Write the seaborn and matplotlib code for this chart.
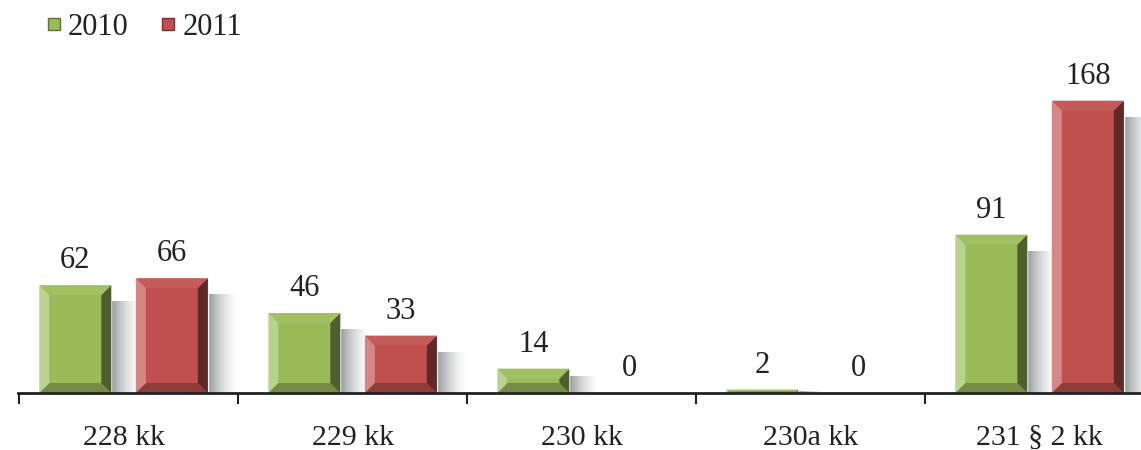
import pandas as pd
import matplotlib.pyplot as plt
import matplotlib.colors as mcolors
from matplotlib.patches import Polygon, Rectangle
from matplotlib.lines import Line2D
import seaborn as sns

# data
categories = ['228 kk', '229 kk', '230 kk', '230a kk', '231 § 2 kk']
values_2010 = [62, 46, 14, 2, 91]
values_2011 = [66, 33, 0, 0, 168]
years = ['2010', '2011']

df = pd.DataFrame({
    'kat': categories * 2,
    'arv': values_2010 + values_2011,
    'aasta': [years[0]] * len(categories) + [years[1]] * len(categories),
})

colors = {'2010': '#9BBB59', '2011': '#C0504D'}

sns.set_style('white')
plt.rcParams['font.family'] = ['Liberation Serif', 'DejaVu Serif']
plt.rcParams['font.size'] = 22

fig = plt.figure(figsize=(11.41, 4.5), dpi=100)
ax = fig.add_axes([18 / 1141, 57 / 450, 1123 / 1141, 348 / 450])

sns.barplot(data=df, x='kat', y='arv', hue='aasta', hue_order=years,
            palette=colors, width=0.843, gap=0.254, saturation=1,
            legend=False, ax=ax, zorder=3)

XLIM = (-0.461, 4.443)
YLIM = (0, 200)

ax.set_xlabel('')
ax.set_ylabel('')
ax.set_yticks([])
for s in ['left', 'right', 'top']:
    ax.spines[s].set_visible(False)
ax.spines['bottom'].set_linewidth(2)
ax.spines['bottom'].set_color('#222222')
ax.spines['bottom'].set_zorder(5)

ax.set_xticks(range(len(categories)))
ax.set_xticklabels(categories)
ax.set_xticks([XLIM[0] + 0.004] + [i + 0.5 for i in range(len(categories))], minor=True)
ax.tick_params(axis='x', which='major', length=0, pad=23, labelsize=21.5,
               labelcolor='#222222')
ax.tick_params(axis='x', which='minor', length=8, width=1.5, color='#222222',
               direction='out', bottom=True)

ax.set_xlim(*XLIM)
ax.set_ylim(*YLIM)
fig.canvas.draw()
ax.set_xlim(*XLIM)
ax.set_ylim(*YLIM)
ax.set_autoscale_on(False)

inv = ax.transData.inverted()


def to_data(pts):
    return inv.transform(pts)


def shade(c, f):
    r, g, b = mcolors.to_rgb(c)
    if f >= 0:
        return (r + (1 - r) * f, g + (1 - g) * f, b + (1 - b) * f)
    return (r * (1 + f), g * (1 + f), b * (1 + f))


for cont, yr in zip(ax.containers, years):
    base = colors[yr]
    for p in cont.patches:
        bb = p.get_window_extent()
        x0, y0, x1, y1 = bb.x0, bb.y0, bb.x1, bb.y1
        h, w = y1 - y0, x1 - x0
        if h <= 0.5:
            continue
        # soft shadow to the right
        sh = 30
        top = y1 - min(16, h * 0.3)
        for k in range(sh):
            a = 0.8 * (1 - k / sh) ** 1.6
            xy = to_data([(x1 + k, y0)])[0]
            wh = to_data([(x1 + k + 1, top)])[0] - xy
            ax.add_patch(Rectangle(tuple(xy), wh[0], wh[1],
                                   facecolor='#7d8185', edgecolor='none',
                                   alpha=a, zorder=1))
        # bevel
        d = min(10, h / 2, w / 2)
        o = [(x0, y0), (x1, y0), (x1, y1), (x0, y1)]
        i = [(x0 + d, y0 + d), (x1 - d, y0 + d), (x1 - d, y1 - d), (x0 + d, y1 - d)]
        sides = [
            ([o[0], o[1], i[1], i[0]], shade(base, -0.25)),
            ([o[1], o[2], i[2], i[1]], shade(base, -0.5)),
            ([o[2], o[3], i[3], i[2]], shade(base, 0.06)),
            ([o[3], o[0], i[0], i[3]], shade(base, 0.32)),
        ]
        for pts, c in sides:
            ax.add_patch(Polygon(to_data(pts), closed=True, facecolor=c,
                                 edgecolor='none', zorder=4))

for cont, vals in zip(ax.containers, [values_2010, values_2011]):
    ax.bar_label(cont, labels=[str(v) for v in vals], padding=7,
                 fontsize=22, color='#222222')

handles = [Line2D([], [], marker='s', linestyle='none', markersize=9,
                  markerfacecolor=colors[y], markeredgecolor=shade(colors[y], -0.4))
           for y in years]
fig.legend(handles, years, loc='upper left', bbox_to_anchor=(0.0368, 0.971),
           ncol=2, frameon=False, fontsize=22, handlelength=0.8,
           handletextpad=0.05, columnspacing=0.9, borderpad=0,
           borderaxespad=0, labelcolor='#222222')

ax.set_xlim(*XLIM)
ax.set_ylim(*YLIM)
fig.savefig('out.png', dpi=100)
